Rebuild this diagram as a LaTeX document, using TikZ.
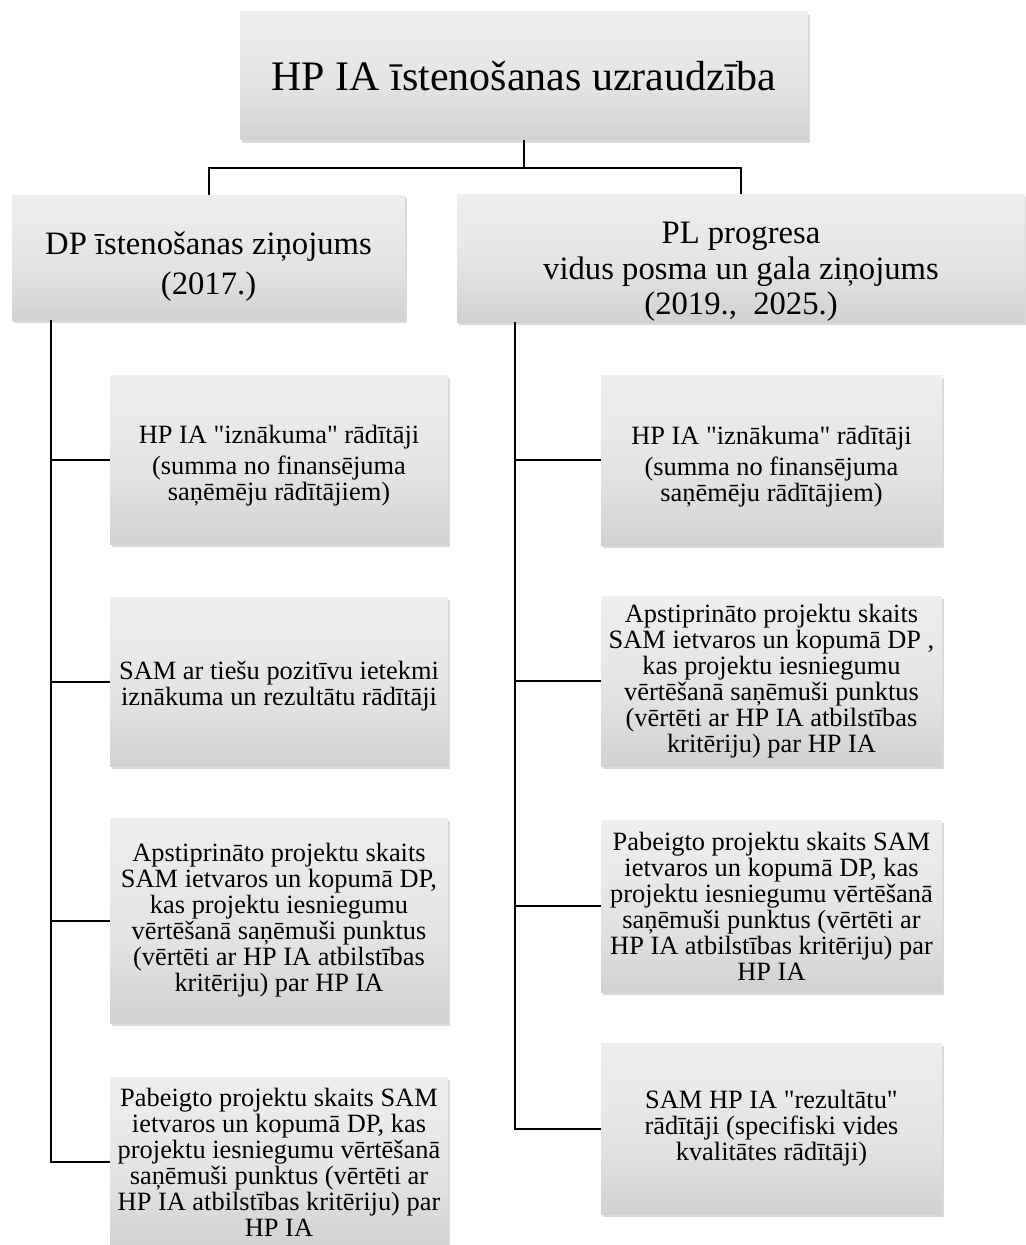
\documentclass[tikz,border=0pt]{standalone}
\usepackage{fontspec}
\setmainfont{Liberation Serif}[Ligatures=TeXOff]
\usetikzlibrary{shadows}
\definecolor{gtop}{gray}{0.975}
\definecolor{gmid}{gray}{0.89}
\definecolor{gbot}{gray}{0.73}
\pgfdeclareverticalshading{boxgrad}{100bp}{color(0bp)=(gbot); color(45bp)=(gmid); color(100bp)=(gtop)}
\newcommand{\lift}[1]{\rule{0pt}{#1}}
\begin{document}
\begin{tikzpicture}[x=0.75pt,y=-0.75pt,
  box/.style={shade, shading=boxgrad, draw=none,
    drop shadow={opacity=0.3, shadow xshift=1.2pt, shadow yshift=-2.2pt},
    align=center, inner sep=0pt, text=black},
  toplvl/.style={font=\fontsize{31.5}{36}\selectfont},
  lvltwoL/.style={font=\fontsize{24.5}{30}\selectfont},
  lvltwoR/.style={font=\fontsize{24.5}{26.6}\selectfont},
  leaf/.style={font=\fontsize{19.8}{19.5}\selectfont},
  lw/.style={minimum width=253.5pt},
  rw/.style={minimum width=255.75pt},
  conn/.style={line width=1.5pt, black}]
\useasboundingbox (0,0) rectangle (1025,1245);

% level 0 and 1
\node[box, toplvl, minimum width=426pt, minimum height=96pt] (top) at (524,76) {HP IA īstenošanas uzraudzība};
\node[box, lvltwoL, minimum width=294.75pt, minimum height=93.75pt] (dp) at (208.5,257.5) {\lift{31pt}DP īstenošanas ziņojums\\(2017.)};
\node[box, lvltwoR, minimum width=426pt, minimum height=96pt] (pl) at (741,258) {\lift{37pt}PL progresa\\vidus posma un gala ziņojums\\(2019.,\ \ 2025.)};

% left children
\node[box, leaf, lw, minimum height=126.75pt] (a1) at (279,459.5) {\lift{23pt}HP IA "iznākuma" rādītāji\\[3.75pt](summa no finansējuma\\saņēmēju rādītājiem)};
\node[box, leaf, lw, minimum height=126.75pt] (a2) at (279,681.5) {\lift{21pt}SAM ar tiešu pozitīvu ietekmi\\iznākuma un rezultātu rādītāji};
\node[box, leaf, lw, minimum height=153.75pt] (a3) at (279,920.5) {Apstiprināto projektu skaits\\SAM ietvaros un kopumā DP,\\kas projektu iesniegumu\\vērtēšanā saņēmuši punktus\\(vērtēti ar HP IA atbilstības\\kritēriju) par HP IA};
\node[box, leaf, lw, minimum height=127.5pt] (a4) at (279,1162) {Pabeigto projektu skaits SAM\\ietvaros un kopumā DP, kas\\projektu iesniegumu vērtēšanā\\saņēmuši punktus (vērtēti ar\\HP IA atbilstības kritēriju) par\\HP IA};

% right children
\node[box, leaf, rw, minimum height=127.5pt] (b1) at (771.5,460) {\lift{23pt}HP IA "iznākuma" rādītāji\\[3.75pt](summa no finansējuma\\saņēmēju rādītājiem)};
\node[box, leaf, rw, minimum height=127.5pt] (b2) at (771.5,681) {Apstiprināto projektu skaits\\SAM ietvaros un kopumā DP ,\\kas projektu iesniegumu\\vērtēšanā saņēmuši punktus\\(vērtēti ar HP IA atbilstības\\kritēriju) par HP IA};
\node[box, leaf, rw, minimum height=129pt] (b3) at (771.5,906) {Pabeigto projektu skaits SAM\\ietvaros un kopumā DP, kas\\projektu iesniegumu vērtēšanā\\saņēmuši punktus (vērtēti ar\\HP IA atbilstības kritēriju) par\\HP IA};
\node[box, leaf, rw, minimum height=128.25pt] (b4) at (771.5,1128.5) {SAM HP IA "rezultātu"\\rādītāji (specifiski vides\\kvalitātes rādītāji)};

% connectors
\coordinate (j) at (524,168);
\coordinate (lt) at (51,0);
\coordinate (rt) at (515,0);
\draw[conn] (top.south) -- (j) -| (dp.north);
\draw[conn] (j) -| (pl.north);
\draw[conn] (dp.south -| lt) |- (a4.west);
\draw[conn] (a1.west) -- (a1.west -| lt);
\draw[conn] (a2.west) -- (a2.west -| lt);
\draw[conn] (a3.west) -- (a3.west -| lt);
\draw[conn] (pl.south -| rt) |- (b4.west);
\draw[conn] (b1.west) -- (b1.west -| rt);
\draw[conn] (b2.west) -- (b2.west -| rt);
\draw[conn] (b3.west) -- (b3.west -| rt);
\end{tikzpicture}
\end{document}
